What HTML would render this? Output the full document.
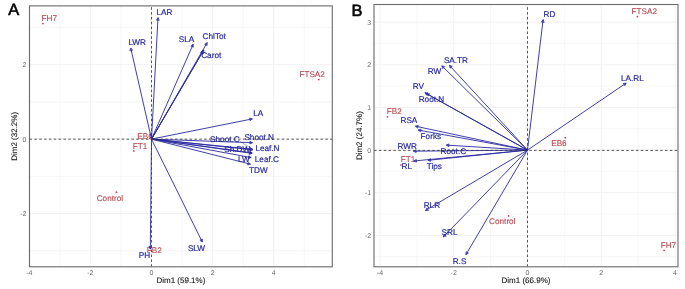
<!DOCTYPE html>
<html><head><meta charset="utf-8"><style>
html,body{margin:0;padding:0;background:#fff;}
body{width:685px;height:289px;overflow:hidden;}
svg{display:block;font-family:"Liberation Sans",sans-serif;will-change:transform;text-rendering:geometricPrecision;}
</style></head><body>
<svg width="685" height="289" viewBox="0 0 685 289">
<rect width="685" height="289" fill="#fff"/>
<line x1="59.85" y1="5.90" x2="59.85" y2="266.80" stroke="#efefef" stroke-width="0.5" />
<line x1="120.95" y1="5.90" x2="120.95" y2="266.80" stroke="#efefef" stroke-width="0.5" />
<line x1="182.05" y1="5.90" x2="182.05" y2="266.80" stroke="#efefef" stroke-width="0.5" />
<line x1="243.15" y1="5.90" x2="243.15" y2="266.80" stroke="#efefef" stroke-width="0.5" />
<line x1="304.25" y1="5.90" x2="304.25" y2="266.80" stroke="#efefef" stroke-width="0.5" />
<line x1="29.50" y1="250.70" x2="332.30" y2="250.70" stroke="#efefef" stroke-width="0.5" />
<line x1="29.50" y1="176.30" x2="332.30" y2="176.30" stroke="#efefef" stroke-width="0.5" />
<line x1="29.50" y1="101.90" x2="332.30" y2="101.90" stroke="#efefef" stroke-width="0.5" />
<line x1="29.50" y1="27.50" x2="332.30" y2="27.50" stroke="#efefef" stroke-width="0.5" />
<line x1="29.30" y1="5.90" x2="29.30" y2="266.80" stroke="#efefef" stroke-width="0.9" />
<line x1="90.40" y1="5.90" x2="90.40" y2="266.80" stroke="#efefef" stroke-width="0.9" />
<line x1="151.50" y1="5.90" x2="151.50" y2="266.80" stroke="#efefef" stroke-width="0.9" />
<line x1="212.60" y1="5.90" x2="212.60" y2="266.80" stroke="#efefef" stroke-width="0.9" />
<line x1="273.70" y1="5.90" x2="273.70" y2="266.80" stroke="#efefef" stroke-width="0.9" />
<line x1="29.50" y1="213.50" x2="332.30" y2="213.50" stroke="#efefef" stroke-width="0.9" />
<line x1="29.50" y1="139.10" x2="332.30" y2="139.10" stroke="#efefef" stroke-width="0.9" />
<line x1="29.50" y1="64.70" x2="332.30" y2="64.70" stroke="#efefef" stroke-width="0.9" />
<circle cx="42.90" cy="23.60" r="0.9" fill="#b8444e"/>
<text x="41.60" y="21.00" font-size="8.2" fill="#b8444e" text-anchor="start" font-weight="normal" stroke="#b8444e" stroke-width="0.1">FH7</text>
<circle cx="318.80" cy="79.60" r="0.9" fill="#b8444e"/>
<text x="299.40" y="76.80" font-size="8.2" fill="#b8444e" text-anchor="start" font-weight="normal" stroke="#b8444e" stroke-width="0.1">FTSA2</text>
<circle cx="150.80" cy="137.60" r="0.9" fill="#b8444e"/>
<text x="137.30" y="138.70" font-size="8.2" fill="#b8444e" text-anchor="start" font-weight="normal" stroke="#b8444e" stroke-width="0.1">EB6</text>
<circle cx="133.80" cy="150.90" r="0.9" fill="#b8444e"/>
<text x="132.70" y="148.90" font-size="8.2" fill="#b8444e" text-anchor="start" font-weight="normal" stroke="#b8444e" stroke-width="0.1">FT1</text>
<circle cx="116.40" cy="192.20" r="0.9" fill="#b8444e"/>
<text x="96.70" y="201.20" font-size="8.2" fill="#b8444e" text-anchor="start" font-weight="normal" stroke="#b8444e" stroke-width="0.1">Control</text>
<circle cx="150.60" cy="248.00" r="0.9" fill="#b8444e"/>
<text x="146.70" y="252.80" font-size="8.2" fill="#b8444e" text-anchor="start" font-weight="normal" stroke="#b8444e" stroke-width="0.1">FB2</text>
<line x1="151.50" y1="139.10" x2="158.00" y2="17.60" stroke="#2a2aa0" stroke-width="0.9" />
<polygon points="159.26,20.32 158.00,17.60 156.45,20.17" fill="#2a2aa0" fill-opacity="0.4" stroke="#2a2aa0" stroke-width="0.72" stroke-linejoin="miter"/>
<line x1="151.50" y1="139.10" x2="130.70" y2="48.00" stroke="#2a2aa0" stroke-width="0.9" />
<polygon points="132.66,50.27 130.70,48.00 129.92,50.90" fill="#2a2aa0" fill-opacity="0.4" stroke="#2a2aa0" stroke-width="0.72" stroke-linejoin="miter"/>
<line x1="151.50" y1="139.10" x2="193.20" y2="44.20" stroke="#2a2aa0" stroke-width="0.9" />
<polygon points="193.42,47.19 193.20,44.20 190.84,46.06" fill="#2a2aa0" fill-opacity="0.4" stroke="#2a2aa0" stroke-width="0.72" stroke-linejoin="miter"/>
<line x1="151.50" y1="139.10" x2="207.20" y2="42.60" stroke="#2a2aa0" stroke-width="0.9" />
<polygon points="207.10,45.60 207.20,42.60 204.66,44.19" fill="#2a2aa0" fill-opacity="0.4" stroke="#2a2aa0" stroke-width="0.72" stroke-linejoin="miter"/>
<line x1="151.50" y1="139.10" x2="203.90" y2="49.90" stroke="#2a2aa0" stroke-width="0.9" />
<polygon points="203.77,52.90 203.90,49.90 201.34,51.47" fill="#2a2aa0" fill-opacity="0.4" stroke="#2a2aa0" stroke-width="0.72" stroke-linejoin="miter"/>
<line x1="151.50" y1="139.10" x2="252.40" y2="118.90" stroke="#2a2aa0" stroke-width="0.9" />
<polygon points="250.08,120.80 252.40,118.90 249.53,118.04" fill="#2a2aa0" fill-opacity="0.4" stroke="#2a2aa0" stroke-width="0.72" stroke-linejoin="miter"/>
<line x1="151.50" y1="139.10" x2="252.50" y2="142.70" stroke="#2a2aa0" stroke-width="0.9" />
<polygon points="249.80,144.01 252.50,142.70 249.90,141.20" fill="#2a2aa0" fill-opacity="0.4" stroke="#2a2aa0" stroke-width="0.72" stroke-linejoin="miter"/>
<line x1="151.50" y1="139.10" x2="252.70" y2="149.30" stroke="#2a2aa0" stroke-width="0.9" />
<polygon points="249.92,150.44 252.70,149.30 250.21,147.63" fill="#2a2aa0" fill-opacity="0.4" stroke="#2a2aa0" stroke-width="0.72" stroke-linejoin="miter"/>
<line x1="151.50" y1="139.10" x2="252.70" y2="149.80" stroke="#2a2aa0" stroke-width="0.9" />
<polygon points="249.92,150.92 252.70,149.80 250.21,148.12" fill="#2a2aa0" fill-opacity="0.4" stroke="#2a2aa0" stroke-width="0.72" stroke-linejoin="miter"/>
<line x1="151.50" y1="139.10" x2="252.20" y2="152.90" stroke="#2a2aa0" stroke-width="0.9" />
<polygon points="249.38,153.94 252.20,152.90 249.77,151.14" fill="#2a2aa0" fill-opacity="0.4" stroke="#2a2aa0" stroke-width="0.72" stroke-linejoin="miter"/>
<line x1="151.50" y1="139.10" x2="251.20" y2="157.60" stroke="#2a2aa0" stroke-width="0.9" />
<polygon points="248.34,158.50 251.20,157.60 248.85,155.73" fill="#2a2aa0" fill-opacity="0.4" stroke="#2a2aa0" stroke-width="0.72" stroke-linejoin="miter"/>
<line x1="151.50" y1="139.10" x2="252.10" y2="153.40" stroke="#2a2aa0" stroke-width="0.9" />
<polygon points="249.28,154.42 252.10,153.40 249.68,151.63" fill="#2a2aa0" fill-opacity="0.4" stroke="#2a2aa0" stroke-width="0.72" stroke-linejoin="miter"/>
<line x1="151.50" y1="139.10" x2="250.50" y2="164.20" stroke="#2a2aa0" stroke-width="0.9" />
<polygon points="247.59,164.91 250.50,164.20 248.28,162.18" fill="#2a2aa0" fill-opacity="0.4" stroke="#2a2aa0" stroke-width="0.72" stroke-linejoin="miter"/>
<line x1="151.50" y1="139.10" x2="202.30" y2="242.00" stroke="#2a2aa0" stroke-width="0.9" />
<polygon points="199.86,240.25 202.30,242.00 202.39,239.00" fill="#2a2aa0" fill-opacity="0.4" stroke="#2a2aa0" stroke-width="0.72" stroke-linejoin="miter"/>
<line x1="151.50" y1="139.10" x2="150.30" y2="249.20" stroke="#2a2aa0" stroke-width="0.9" />
<polygon points="148.92,246.54 150.30,249.20 151.74,246.57" fill="#2a2aa0" fill-opacity="0.4" stroke="#2a2aa0" stroke-width="0.72" stroke-linejoin="miter"/>
<line x1="151.50" y1="139.10" x2="202.90" y2="51.30" stroke="#2a2aa0" stroke-width="0.9" />
<polygon points="202.78,54.30 202.90,51.30 200.35,52.87" fill="#2a2aa0" fill-opacity="0.4" stroke="#2a2aa0" stroke-width="0.72" stroke-linejoin="miter"/>
<line x1="240.00" y1="141.60" x2="251.50" y2="148.40" stroke="#2a2aa0" stroke-width="0.4" />
<text x="156.50" y="14.80" font-size="8.2" fill="#2a2aa0" text-anchor="start" font-weight="normal" stroke="#2a2aa0" stroke-width="0.2">LAR</text>
<text x="128.40" y="45.20" font-size="8.2" fill="#2a2aa0" text-anchor="start" font-weight="normal" stroke="#2a2aa0" stroke-width="0.2">LWR</text>
<text x="178.70" y="41.60" font-size="8.2" fill="#2a2aa0" text-anchor="start" font-weight="normal" stroke="#2a2aa0" stroke-width="0.2">SLA</text>
<text x="202.60" y="39.20" font-size="8.2" fill="#2a2aa0" text-anchor="start" font-weight="normal" stroke="#2a2aa0" stroke-width="0.2">ChlTot</text>
<text x="201.20" y="58.20" font-size="8.2" fill="#2a2aa0" text-anchor="start" font-weight="normal" stroke="#2a2aa0" stroke-width="0.2">Carot</text>
<text x="253.30" y="115.80" font-size="8.2" fill="#2a2aa0" text-anchor="start" font-weight="normal" stroke="#2a2aa0" stroke-width="0.2">LA</text>
<text x="244.40" y="139.70" font-size="8.2" fill="#2a2aa0" text-anchor="start" font-weight="normal" stroke="#2a2aa0" stroke-width="0.2">Shoot.N</text>
<text x="210.10" y="142.40" font-size="8.2" fill="#2a2aa0" text-anchor="start" font-weight="normal" stroke="#2a2aa0" stroke-width="0.2">Shoot.C</text>
<text x="224.20" y="151.80" font-size="8.2" fill="#2a2aa0" text-anchor="start" font-weight="normal" stroke="#2a2aa0" stroke-width="0.2">Sh.DW</text>
<text x="255.40" y="151.10" font-size="8.2" fill="#2a2aa0" text-anchor="start" font-weight="normal" stroke="#2a2aa0" stroke-width="0.2">Leaf.N</text>
<text x="238.10" y="161.50" font-size="8.2" fill="#2a2aa0" text-anchor="start" font-weight="normal" stroke="#2a2aa0" stroke-width="0.2">LW</text>
<text x="254.80" y="161.60" font-size="8.2" fill="#2a2aa0" text-anchor="start" font-weight="normal" stroke="#2a2aa0" stroke-width="0.2">Leaf.C</text>
<text x="249.00" y="173.00" font-size="8.2" fill="#2a2aa0" text-anchor="start" font-weight="normal" stroke="#2a2aa0" stroke-width="0.2">TDW</text>
<text x="187.90" y="251.00" font-size="8.2" fill="#2a2aa0" text-anchor="start" font-weight="normal" stroke="#2a2aa0" stroke-width="0.2">SLW</text>
<text x="138.80" y="258.30" font-size="8.2" fill="#2a2aa0" text-anchor="start" font-weight="normal" stroke="#2a2aa0" stroke-width="0.2">PH</text>
<line x1="29.50" y1="139.15" x2="332.30" y2="139.15" stroke="#3a3a3a" stroke-width="0.85" stroke-dasharray="2.55 2.3"/>
<line x1="151.50" y1="266.80" x2="151.50" y2="5.90" stroke="#3a3a3a" stroke-width="0.85" stroke-dasharray="2.55 2.3"/>
<rect x="29.50" y="5.90" width="302.80" height="260.90" fill="none" stroke="#6a6a6a" stroke-width="1.1"/>
<text x="29.30" y="274.60" font-size="7" fill="#6c6c6c" text-anchor="middle" font-weight="normal" >-4</text>
<text x="90.40" y="274.60" font-size="7" fill="#6c6c6c" text-anchor="middle" font-weight="normal" >-2</text>
<text x="151.50" y="274.60" font-size="7" fill="#6c6c6c" text-anchor="middle" font-weight="normal" >0</text>
<text x="212.60" y="274.60" font-size="7" fill="#6c6c6c" text-anchor="middle" font-weight="normal" >2</text>
<text x="273.70" y="274.60" font-size="7" fill="#6c6c6c" text-anchor="middle" font-weight="normal" >4</text>
<text x="26.30" y="216.00" font-size="7" fill="#6c6c6c" text-anchor="end" font-weight="normal" >-2</text>
<text x="26.30" y="141.60" font-size="7" fill="#6c6c6c" text-anchor="end" font-weight="normal" >0</text>
<text x="26.30" y="67.20" font-size="7" fill="#6c6c6c" text-anchor="end" font-weight="normal" >2</text>
<text x="180.90" y="283.40" font-size="8" fill="#1a1a1a" text-anchor="middle" font-weight="normal" stroke="#1a1a1a" stroke-width="0.12">Dim1 (59.1%)</text>
<text x="0" y="0" font-size="8" fill="#1a1a1a" stroke="#1a1a1a" stroke-width="0.12" text-anchor="middle" transform="translate(16.60,136.35) rotate(-90)">Dim2 (32.2%)</text>
<text x="8.30" y="14.50" font-size="16.4" fill="#000" text-anchor="start" font-weight="normal" stroke="#000" stroke-width="0.6">A</text>
<line x1="416.86" y1="4.50" x2="416.86" y2="266.80" stroke="#efefef" stroke-width="0.5" />
<line x1="490.62" y1="4.50" x2="490.62" y2="266.80" stroke="#efefef" stroke-width="0.5" />
<line x1="564.38" y1="4.50" x2="564.38" y2="266.80" stroke="#efefef" stroke-width="0.5" />
<line x1="638.14" y1="4.50" x2="638.14" y2="266.80" stroke="#efefef" stroke-width="0.5" />
<line x1="374.00" y1="256.70" x2="678.00" y2="256.70" stroke="#efefef" stroke-width="0.5" />
<line x1="374.00" y1="214.06" x2="678.00" y2="214.06" stroke="#efefef" stroke-width="0.5" />
<line x1="374.00" y1="171.42" x2="678.00" y2="171.42" stroke="#efefef" stroke-width="0.5" />
<line x1="374.00" y1="128.78" x2="678.00" y2="128.78" stroke="#efefef" stroke-width="0.5" />
<line x1="374.00" y1="86.14" x2="678.00" y2="86.14" stroke="#efefef" stroke-width="0.5" />
<line x1="374.00" y1="43.50" x2="678.00" y2="43.50" stroke="#efefef" stroke-width="0.5" />
<line x1="379.98" y1="4.50" x2="379.98" y2="266.80" stroke="#efefef" stroke-width="0.9" />
<line x1="453.74" y1="4.50" x2="453.74" y2="266.80" stroke="#efefef" stroke-width="0.9" />
<line x1="527.50" y1="4.50" x2="527.50" y2="266.80" stroke="#efefef" stroke-width="0.9" />
<line x1="601.26" y1="4.50" x2="601.26" y2="266.80" stroke="#efefef" stroke-width="0.9" />
<line x1="675.02" y1="4.50" x2="675.02" y2="266.80" stroke="#efefef" stroke-width="0.9" />
<line x1="374.00" y1="235.38" x2="678.00" y2="235.38" stroke="#efefef" stroke-width="0.9" />
<line x1="374.00" y1="192.74" x2="678.00" y2="192.74" stroke="#efefef" stroke-width="0.9" />
<line x1="374.00" y1="150.10" x2="678.00" y2="150.10" stroke="#efefef" stroke-width="0.9" />
<line x1="374.00" y1="107.46" x2="678.00" y2="107.46" stroke="#efefef" stroke-width="0.9" />
<line x1="374.00" y1="64.82" x2="678.00" y2="64.82" stroke="#efefef" stroke-width="0.9" />
<line x1="374.00" y1="22.18" x2="678.00" y2="22.18" stroke="#efefef" stroke-width="0.9" />
<circle cx="637.40" cy="16.60" r="0.9" fill="#b8444e"/>
<text x="631.50" y="13.70" font-size="8.2" fill="#b8444e" text-anchor="start" font-weight="normal" stroke="#b8444e" stroke-width="0.1">FTSA2</text>
<circle cx="387.50" cy="116.80" r="0.9" fill="#b8444e"/>
<text x="386.80" y="114.30" font-size="8.2" fill="#b8444e" text-anchor="start" font-weight="normal" stroke="#b8444e" stroke-width="0.1">FB2</text>
<circle cx="565.30" cy="137.70" r="0.9" fill="#b8444e"/>
<text x="551.20" y="146.20" font-size="8.2" fill="#b8444e" text-anchor="start" font-weight="normal" stroke="#b8444e" stroke-width="0.1">EB6</text>
<circle cx="401.00" cy="165.10" r="0.9" fill="#b8444e"/>
<text x="400.70" y="162.00" font-size="8.2" fill="#b8444e" text-anchor="start" font-weight="normal" stroke="#b8444e" stroke-width="0.1">FT1</text>
<circle cx="508.60" cy="215.90" r="0.9" fill="#b8444e"/>
<text x="489.10" y="224.30" font-size="8.2" fill="#b8444e" text-anchor="start" font-weight="normal" stroke="#b8444e" stroke-width="0.1">Control</text>
<circle cx="664.10" cy="250.30" r="0.9" fill="#b8444e"/>
<text x="660.70" y="247.90" font-size="8.2" fill="#b8444e" text-anchor="start" font-weight="normal" stroke="#b8444e" stroke-width="0.1">FH7</text>
<line x1="527.50" y1="150.10" x2="543.10" y2="19.60" stroke="#2a2aa0" stroke-width="0.9" />
<polygon points="544.18,22.40 543.10,19.60 541.39,22.06" fill="#2a2aa0" fill-opacity="0.4" stroke="#2a2aa0" stroke-width="0.72" stroke-linejoin="miter"/>
<line x1="527.50" y1="150.10" x2="449.40" y2="65.30" stroke="#2a2aa0" stroke-width="0.9" />
<polygon points="452.23,66.29 449.40,65.30 450.16,68.20" fill="#2a2aa0" fill-opacity="0.4" stroke="#2a2aa0" stroke-width="0.72" stroke-linejoin="miter"/>
<line x1="527.50" y1="150.10" x2="441.80" y2="65.80" stroke="#2a2aa0" stroke-width="0.9" />
<polygon points="444.68,66.65 441.80,65.80 442.70,68.66" fill="#2a2aa0" fill-opacity="0.4" stroke="#2a2aa0" stroke-width="0.72" stroke-linejoin="miter"/>
<line x1="527.50" y1="150.10" x2="424.90" y2="92.70" stroke="#2a2aa0" stroke-width="0.9" />
<polygon points="427.90,92.76 424.90,92.70 426.52,95.22" fill="#2a2aa0" fill-opacity="0.4" stroke="#2a2aa0" stroke-width="0.72" stroke-linejoin="miter"/>
<line x1="527.50" y1="150.10" x2="426.50" y2="93.60" stroke="#2a2aa0" stroke-width="0.9" />
<polygon points="429.50,93.66 426.50,93.60 428.12,96.12" fill="#2a2aa0" fill-opacity="0.4" stroke="#2a2aa0" stroke-width="0.72" stroke-linejoin="miter"/>
<line x1="527.50" y1="150.10" x2="626.20" y2="83.10" stroke="#2a2aa0" stroke-width="0.9" />
<polygon points="624.80,85.75 626.20,83.10 623.22,83.42" fill="#2a2aa0" fill-opacity="0.4" stroke="#2a2aa0" stroke-width="0.72" stroke-linejoin="miter"/>
<line x1="527.50" y1="150.10" x2="415.40" y2="126.20" stroke="#2a2aa0" stroke-width="0.9" />
<polygon points="418.28,125.37 415.40,126.20 417.70,128.13" fill="#2a2aa0" fill-opacity="0.4" stroke="#2a2aa0" stroke-width="0.72" stroke-linejoin="miter"/>
<line x1="527.50" y1="150.10" x2="418.20" y2="130.00" stroke="#2a2aa0" stroke-width="0.9" />
<polygon points="421.06,129.09 418.20,130.00 420.55,131.86" fill="#2a2aa0" fill-opacity="0.4" stroke="#2a2aa0" stroke-width="0.72" stroke-linejoin="miter"/>
<line x1="527.50" y1="150.10" x2="413.50" y2="151.20" stroke="#2a2aa0" stroke-width="0.9" />
<polygon points="416.14,149.77 413.50,151.20 416.16,152.58" fill="#2a2aa0" fill-opacity="0.4" stroke="#2a2aa0" stroke-width="0.72" stroke-linejoin="miter"/>
<line x1="527.50" y1="150.10" x2="446.30" y2="145.10" stroke="#2a2aa0" stroke-width="0.9" />
<polygon points="449.03,143.86 446.30,145.10 448.86,146.67" fill="#2a2aa0" fill-opacity="0.4" stroke="#2a2aa0" stroke-width="0.72" stroke-linejoin="miter"/>
<line x1="527.50" y1="150.10" x2="413.80" y2="161.00" stroke="#2a2aa0" stroke-width="0.9" />
<polygon points="416.30,159.35 413.80,161.00 416.57,162.15" fill="#2a2aa0" fill-opacity="0.4" stroke="#2a2aa0" stroke-width="0.72" stroke-linejoin="miter"/>
<line x1="527.50" y1="150.10" x2="428.00" y2="160.30" stroke="#2a2aa0" stroke-width="0.9" />
<polygon points="430.49,158.63 428.00,160.30 430.78,161.43" fill="#2a2aa0" fill-opacity="0.4" stroke="#2a2aa0" stroke-width="0.72" stroke-linejoin="miter"/>
<line x1="527.50" y1="150.10" x2="425.40" y2="210.50" stroke="#2a2aa0" stroke-width="0.9" />
<polygon points="426.96,207.94 425.40,210.50 428.40,210.36" fill="#2a2aa0" fill-opacity="0.4" stroke="#2a2aa0" stroke-width="0.72" stroke-linejoin="miter"/>
<line x1="527.50" y1="150.10" x2="443.30" y2="237.00" stroke="#2a2aa0" stroke-width="0.9" />
<polygon points="444.13,234.12 443.30,237.00 446.15,236.08" fill="#2a2aa0" fill-opacity="0.4" stroke="#2a2aa0" stroke-width="0.72" stroke-linejoin="miter"/>
<line x1="527.50" y1="150.10" x2="465.90" y2="254.70" stroke="#2a2aa0" stroke-width="0.9" />
<polygon points="466.03,251.70 465.90,254.70 468.46,253.13" fill="#2a2aa0" fill-opacity="0.4" stroke="#2a2aa0" stroke-width="0.72" stroke-linejoin="miter"/>
<text x="543.50" y="17.00" font-size="8.2" fill="#2a2aa0" text-anchor="start" font-weight="normal" stroke="#2a2aa0" stroke-width="0.2">RD</text>
<text x="443.90" y="62.80" font-size="8.2" fill="#2a2aa0" text-anchor="start" font-weight="normal" stroke="#2a2aa0" stroke-width="0.2">SA.TR</text>
<text x="427.80" y="74.40" font-size="8.2" fill="#2a2aa0" text-anchor="start" font-weight="normal" stroke="#2a2aa0" stroke-width="0.2">RW</text>
<text x="412.70" y="89.20" font-size="8.2" fill="#2a2aa0" text-anchor="start" font-weight="normal" stroke="#2a2aa0" stroke-width="0.2">RV</text>
<text x="418.70" y="101.70" font-size="8.2" fill="#2a2aa0" text-anchor="start" font-weight="normal" stroke="#2a2aa0" stroke-width="0.2">Root.N</text>
<text x="621.00" y="80.80" font-size="8.2" fill="#2a2aa0" text-anchor="start" font-weight="normal" stroke="#2a2aa0" stroke-width="0.2">LA.RL</text>
<text x="400.50" y="123.40" font-size="8.2" fill="#2a2aa0" text-anchor="start" font-weight="normal" stroke="#2a2aa0" stroke-width="0.2">RSA</text>
<text x="420.60" y="138.50" font-size="8.2" fill="#2a2aa0" text-anchor="start" font-weight="normal" stroke="#2a2aa0" stroke-width="0.2">Forks</text>
<text x="397.50" y="148.60" font-size="8.2" fill="#2a2aa0" text-anchor="start" font-weight="normal" stroke="#2a2aa0" stroke-width="0.2">RWR</text>
<text x="440.60" y="153.60" font-size="8.2" fill="#2a2aa0" text-anchor="start" font-weight="normal" stroke="#2a2aa0" stroke-width="0.2">Root.C</text>
<text x="401.50" y="169.20" font-size="8.2" fill="#2a2aa0" text-anchor="start" font-weight="normal" stroke="#2a2aa0" stroke-width="0.2">RL</text>
<text x="426.70" y="169.40" font-size="8.2" fill="#2a2aa0" text-anchor="start" font-weight="normal" stroke="#2a2aa0" stroke-width="0.2">Tips</text>
<text x="423.70" y="208.00" font-size="8.2" fill="#2a2aa0" text-anchor="start" font-weight="normal" stroke="#2a2aa0" stroke-width="0.2">RLR</text>
<text x="441.60" y="234.70" font-size="8.2" fill="#2a2aa0" text-anchor="start" font-weight="normal" stroke="#2a2aa0" stroke-width="0.2">SRL</text>
<text x="452.70" y="263.50" font-size="8.2" fill="#2a2aa0" text-anchor="start" font-weight="normal" stroke="#2a2aa0" stroke-width="0.2">R.S</text>
<line x1="374.00" y1="150.40" x2="678.00" y2="150.40" stroke="#3a3a3a" stroke-width="0.85" stroke-dasharray="2.55 2.3"/>
<line x1="527.50" y1="266.80" x2="527.50" y2="4.50" stroke="#3a3a3a" stroke-width="0.85" stroke-dasharray="2.55 2.3"/>
<rect x="374.00" y="4.50" width="304.00" height="262.30" fill="none" stroke="#6a6a6a" stroke-width="1.1"/>
<text x="379.98" y="274.60" font-size="7" fill="#6c6c6c" text-anchor="middle" font-weight="normal" >-4</text>
<text x="453.74" y="274.60" font-size="7" fill="#6c6c6c" text-anchor="middle" font-weight="normal" >-2</text>
<text x="527.50" y="274.60" font-size="7" fill="#6c6c6c" text-anchor="middle" font-weight="normal" >0</text>
<text x="601.26" y="274.60" font-size="7" fill="#6c6c6c" text-anchor="middle" font-weight="normal" >2</text>
<text x="675.02" y="274.60" font-size="7" fill="#6c6c6c" text-anchor="middle" font-weight="normal" >4</text>
<text x="371.20" y="237.88" font-size="7" fill="#6c6c6c" text-anchor="end" font-weight="normal" >-2</text>
<text x="371.20" y="195.24" font-size="7" fill="#6c6c6c" text-anchor="end" font-weight="normal" >-1</text>
<text x="371.20" y="152.60" font-size="7" fill="#6c6c6c" text-anchor="end" font-weight="normal" >0</text>
<text x="371.20" y="109.96" font-size="7" fill="#6c6c6c" text-anchor="end" font-weight="normal" >1</text>
<text x="371.20" y="67.32" font-size="7" fill="#6c6c6c" text-anchor="end" font-weight="normal" >2</text>
<text x="371.20" y="24.68" font-size="7" fill="#6c6c6c" text-anchor="end" font-weight="normal" >3</text>
<text x="526.00" y="283.40" font-size="8" fill="#1a1a1a" text-anchor="middle" font-weight="normal" stroke="#1a1a1a" stroke-width="0.12">Dim1 (66.9%)</text>
<text x="0" y="0" font-size="8" fill="#1a1a1a" stroke="#1a1a1a" stroke-width="0.12" text-anchor="middle" transform="translate(362.00,135.65) rotate(-90)">Dim2 (24.7%)</text>
<text x="351.50" y="15.60" font-size="16.4" fill="#000" text-anchor="start" font-weight="normal" stroke="#000" stroke-width="0.6">B</text>
</svg>
</body></html>
